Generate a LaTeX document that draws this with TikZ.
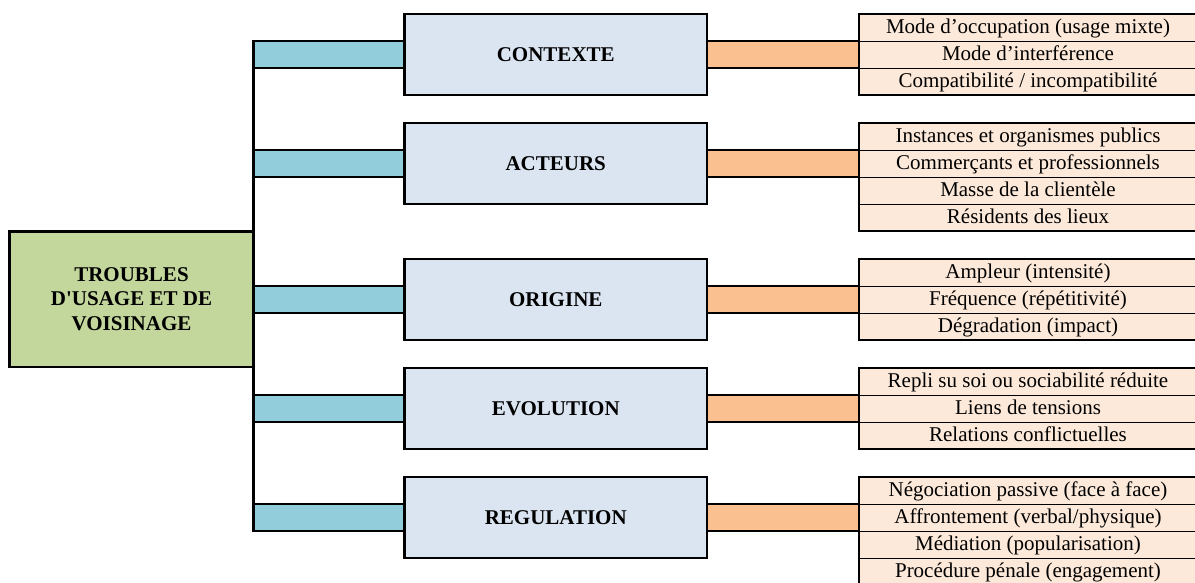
\documentclass[tikz,border=0pt]{standalone}
\usepackage{fontspec}
\setmainfont{Liberation Serif}
\usetikzlibrary{positioning,calc}
\definecolor{greenbox}{HTML}{C3D69B}
\definecolor{bluebox}{HTML}{DBE5F1}
\definecolor{cyanbar}{HTML}{92CDDC}
\definecolor{orangebar}{HTML}{FAC090}
\definecolor{rowfill}{HTML}{FDE9D9}
\begin{document}
\begin{tikzpicture}[x=1pt,y=-1pt,
  every node/.style={inner sep=0pt,outer sep=0pt},
  mainbox/.style={draw,line width=2.7pt,fill=greenbox,minimum width=244pt,minimum height=135.7pt,
    font=\fontsize{21}{24.5}\selectfont\bfseries,align=center},
  catbox/.style={draw,line width=2.7pt,fill=bluebox,minimum width=302.5pt,minimum height=81pt,
    font=\fontsize{21}{24}\selectfont\bfseries,text height=14pt,text depth=0pt},
  rowbox/.style={fill=rowfill,minimum width=338pt,minimum height=27pt,
    font=\fontsize{21}{24}\selectfont,text height=14pt,text depth=2.5pt},
  divider/.style={draw,line width=0.8pt},
  cbar/.style={draw,line width=2.7pt,fill=cyanbar},
  obar/.style={draw,line width=2.7pt,fill=orangebar},
  tframe/.style={draw,line width=2.7pt},
  spine/.style={draw,line width=2.7pt}
]
\useasboundingbox (0,0) rectangle (1195,583);

% spine
\coordinate (spTop) at (253.5,41);
\coordinate (spBot) at (253.5,531);

% category box positions
\foreach \i/\T in {1/13,2/122,3/258,4/367,5/476}{
  \coordinate (cc\i) at (555.75,\T+41.5);
  \coordinate (sp\i) at (253.5,\T+28);
}

% main box
\node[mainbox] (m) at (131.5,299.2) {TROUBLES\\D\textquotesingle USAGE ET DE\\VOISINAGE};

\draw[spine] (spTop) -- (spBot);

% category boxes
\node[catbox] (c1) at (cc1) {CONTEXTE};
\node[catbox] (c2) at (cc2) {ACTEURS};
\node[catbox] (c3) at (cc3) {ORIGINE};
\node[catbox] (c4) at (cc4) {EVOLUTION};
\node[catbox] (c5) at (cc5) {REGULATION};

% tables
\node[rowbox] (r1-1) at (1028,27.5) {Mode d’occupation (usage mixte)};
\node[rowbox,below=0pt of r1-1] (r1-2) {Mode d’interférence};
\node[rowbox,below=0pt of r1-2] (r1-3) {Compatibilité / incompatibilité};
\draw[divider] (r1-1.south west) -- (r1-1.south east) (r1-2.south west) -- (r1-2.south east);
\draw[tframe] (r1-1.north east) -- (r1-1.north west) -- (r1-3.south west) -- (r1-3.south east);

\node[rowbox] (r2-1) at (1028,136.5) {Instances et organismes publics};
\node[rowbox,below=0pt of r2-1] (r2-2) {Commerçants et professionnels};
\node[rowbox,below=0pt of r2-2] (r2-3) {Masse de la clientèle};
\node[rowbox,below=0pt of r2-3] (r2-4) {Résidents des lieux};
\draw[divider] (r2-1.south west) -- (r2-1.south east) (r2-2.south west) -- (r2-2.south east)
  (r2-3.south west) -- (r2-3.south east);
\draw[tframe] (r2-1.north east) -- (r2-1.north west) -- (r2-4.south west) -- (r2-4.south east);

\node[rowbox] (r3-1) at (1028,272.5) {Ampleur (intensité)};
\node[rowbox,below=0pt of r3-1] (r3-2) {Fréquence (répétitivité)};
\node[rowbox,below=0pt of r3-2] (r3-3) {Dégradation (impact)};
\draw[divider] (r3-1.south west) -- (r3-1.south east) (r3-2.south west) -- (r3-2.south east);
\draw[tframe] (r3-1.north east) -- (r3-1.north west) -- (r3-3.south west) -- (r3-3.south east);

\node[rowbox] (r4-1) at (1028,381.5) {Repli su soi ou sociabilité réduite};
\node[rowbox,below=0pt of r4-1] (r4-2) {Liens de tensions};
\node[rowbox,below=0pt of r4-2] (r4-3) {Relations conflictuelles};
\draw[divider] (r4-1.south west) -- (r4-1.south east) (r4-2.south west) -- (r4-2.south east);
\draw[tframe] (r4-1.north east) -- (r4-1.north west) -- (r4-3.south west) -- (r4-3.south east);

\node[rowbox] (r5-1) at (1028,490.5) {Négociation passive (face à face)};
\node[rowbox,below=0pt of r5-1] (r5-2) {Affrontement (verbal/physique)};
\node[rowbox,below=0pt of r5-2] (r5-3) {Médiation (popularisation)};
\node[rowbox,below=0pt of r5-3] (r5-4) {Procédure pénale (engagement)};
\draw[divider] (r5-1.south west) -- (r5-1.south east) (r5-2.south west) -- (r5-2.south east)
  (r5-3.south west) -- (r5-3.south east);
\draw[tframe] (r5-1.north east) -- (r5-1.north west) -- (r5-4.south west) -- (r5-4.south east);

% connector bars
\foreach \i in {1,...,5}{
  \draw[cbar] (sp\i) rectangle ($(c\i.west)+(0,13.5)$);
  \draw[obar] ($(c\i.east)+(0,-13.5)$) rectangle (r\i-2.south west);
}
% redraw box borders over bar ends
\foreach \i in {1,...,5}{
  \draw[line width=2.7pt] (c\i.north west) rectangle (c\i.south east);
}
\end{tikzpicture}
\end{document}
